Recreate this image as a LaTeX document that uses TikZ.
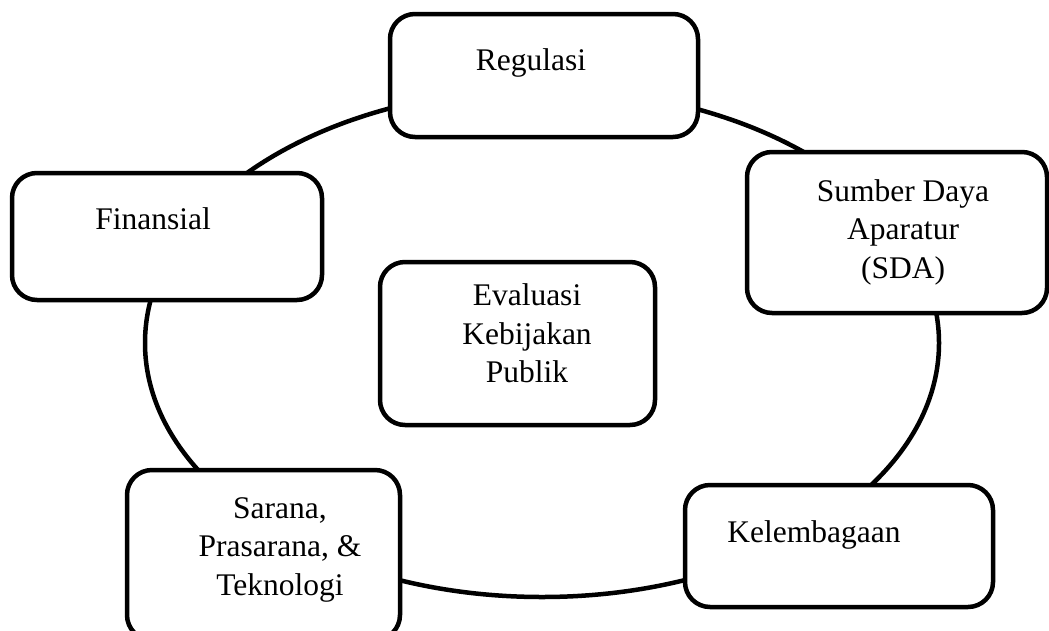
\documentclass[tikz,border=0pt]{standalone}
\usepackage{fontspec}
\setmainfont{Liberation Serif}
\usetikzlibrary{shapes.geometric}
\begin{document}
\begin{tikzpicture}[x=1pt,y=-1pt,
  box/.style={draw, line width=4.5pt, rounded corners=25pt, fill=white, inner sep=0pt},
  lbl/.style={font=\fontsize{31.5}{38.5}\selectfont, inner sep=0pt, align=center},
  ring/.style={draw, ellipse, line width=4.5pt, inner sep=0pt}]
\useasboundingbox (0,0) rectangle (1049,630);
\clip (0,0) rectangle (1049,630);
\node[ring, minimum width=794pt, minimum height=508pt] (ring) at (542,343) {};
\node[box, minimum width=308pt, minimum height=123pt] (reg) at (544,75.5) {};
\node[box, minimum width=310pt, minimum height=127pt] (fin) at (167,236.5) {};
\node[box, minimum width=300pt, minimum height=161pt] (sda) at (897,232.5) {};
\node[box, minimum width=275pt, minimum height=163pt] (eva) at (517.5,343.5) {};
\node[box, minimum width=273pt, minimum height=170pt] (sar) at (263.5,555) {};
\node[box, minimum width=308pt, minimum height=122pt] (kel) at (839,546) {};
\node[lbl, anchor=base] (regT) at (531,70) {Regulasi};
\node[lbl, anchor=base] (finT) at (153,229) {Finansial};
\node[lbl, anchor=base] (kelT) at (814,542) {Kelembagaan};
\node[lbl] (sdaT) at (903,232) {Sumber Daya\\Aparatur\\(SDA)};
\node[lbl] (evaT) at (527,333.5) {Evaluasi\\Kebijakan\\Publik};
\node[lbl] (sarT) at (280,549.5) {Sarana,\\Prasarana, \&\\Teknologi};
\end{tikzpicture}
\end{document}
